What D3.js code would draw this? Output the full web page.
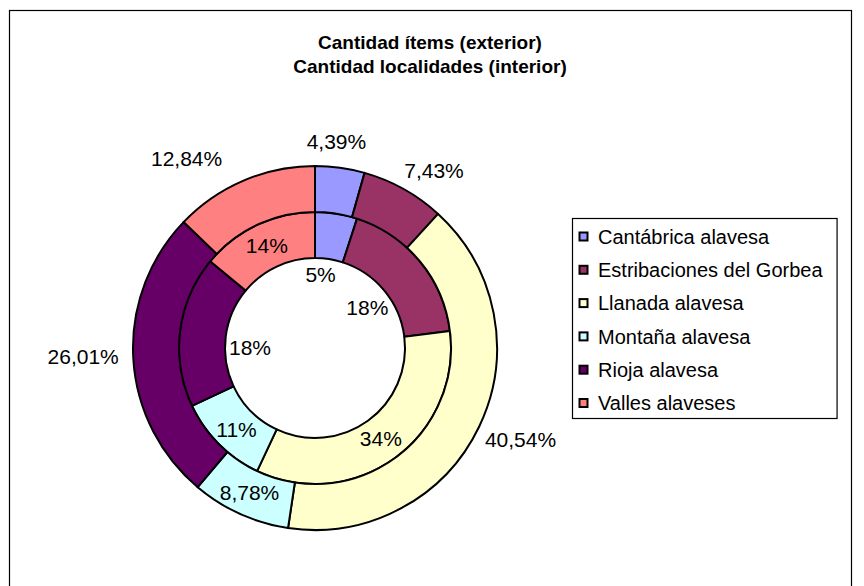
<!DOCTYPE html>
<html>
<head>
<meta charset="utf-8">
<script src="https://cdn.jsdelivr.net/npm/d3@7"></script>
<style>
  body { margin: 0; background: #fff; }
  text { font-family: "Liberation Sans", Arial, sans-serif; }
</style>
</head>
<body>
<div id="chartContainer"></div>
<script>
// comarcas de Álava - doble anillo
const comarcas = ["Cantábrica alavesa", "Estribaciones del Gorbea", "Llanada alavesa",
                  "Montaña alavesa", "Rioja alavesa", "Valles alaveses"];
const itemsPct = [4.39, 7.43, 40.54, 8.78, 26.01, 12.84];      // anillo exterior
const localidadesPct = [5, 18, 34, 11, 18, 14];                 // anillo interior
const colores = ["#9999FF", "#993366", "#FFFFCC", "#CCFFFF", "#660066", "#FF8080"];
const titulo = ["Cantidad ítems (exterior)", "Cantidad localidades (interior)"];

// label placement (radius, angle nudge in degrees) - like Excel put them
const outerLabelPos = [[208, -2], [214, 4.6], [225, -1.5], [159, 0], [232, 1], [229, -11]];
const innerLabelPos = [[74, -4.7], [66, 2], [112, 0], [113, -1], [65, -6.8], [113, 0]];

(function() {
    const fullWidth = 864, fullHeight = 586;
    const cx = 315, cy = 348;
    const rHole = 90, rMid = 136, rOut = 182;
    const labelSize = 21;

    const svg = d3.select("#chartContainer").append("svg")
        .attr("width", fullWidth)
        .attr("height", fullHeight);

    // chart area border
    svg.append("rect")
        .attr("x", 9.5).attr("y", 10.5)
        .attr("width", 842).attr("height", 600)
        .attr("fill", "none")
        .attr("stroke", "#000")
        .attr("stroke-width", 1.2);

    svg.selectAll("text.title")
        .data(titulo)
        .join("text")
        .attr("class", "title")
        .attr("x", 430)
        .attr("y", (d, i) => 49 + i * 24)
        .attr("text-anchor", "middle")
        .style("font-size", "19px")
        .style("font-weight", "bold")
        .text(d => d);

    const pie = d3.pie().sort(null).value(d => d);
    const g = svg.append("g").attr("transform", `translate(${cx}, ${cy})`);

    const rings = [
        { data: localidadesPct, inner: rHole, outer: rMid, pos: innerLabelPos, fmt: d => d3.format(".0f")(d) + "%" },
        { data: itemsPct, inner: rMid, outer: rOut, pos: outerLabelPos, fmt: d => d3.format(".2f")(d).replace(".", ",") + "%" }
    ];

    rings.forEach(ring => {
        const arc = d3.arc().innerRadius(ring.inner).outerRadius(ring.outer);
        const arcs = pie(ring.data);

        g.append("g")
            .selectAll("path")
            .data(arcs)
            .join("path")
            .attr("d", arc)
            .attr("fill", (d, i) => colores[i])
            .attr("stroke", "#000")
            .attr("stroke-width", 2)
            .attr("stroke-linejoin", "round");

        g.append("g")
            .selectAll("text")
            .data(arcs)
            .join("text")
            .attr("transform", (d, i) => {
                const [r, turn] = ring.pos[i];
                const a = (d.startAngle + d.endAngle) / 2 + turn * Math.PI / 180;
                return `translate(${r * Math.sin(a)}, ${-r * Math.cos(a) + labelSize * 0.358})`;
            })
            .attr("text-anchor", "middle")
            .style("font-size", labelSize + "px")
            .attr("fill", "#000")
            .text(d => ring.fmt(d.data));
    });

    // --- Legend ---
    const legendX = 572, legendY = 218, rowH = 33.3, legendSize = 20;
    const legend = svg.append("g").attr("transform", `translate(${legendX}, ${legendY})`);
    const legendBox = legend.append("rect")
        .attr("fill", "#fff")
        .attr("stroke", "#000")
        .attr("stroke-width", 1.2);

    const items = legend.selectAll("g.item")
        .data(comarcas)
        .join("g")
        .attr("class", "item")
        .attr("transform", (d, i) => `translate(0, ${18.5 + i * rowH})`);

    items.append("rect")
        .attr("x", 7.5).attr("y", -4)
        .attr("width", 8).attr("height", 8)
        .attr("fill", (d, i) => colores[i])
        .attr("stroke", "#000")
        .attr("stroke-width", 2);

    items.append("text")
        .attr("x", 26)
        .attr("y", legendSize * 0.358)
        .style("font-size", legendSize + "px")
        .text(d => d);

    let maxW = 0;
    items.selectAll("text").each(function() { maxW = Math.max(maxW, this.getComputedTextLength()); });
    legendBox
        .attr("x", 0.5).attr("y", 0.5)
        .attr("width", 26 + maxW + 14)
        .attr("height", 200);
})();
</script>
</body>
</html>
